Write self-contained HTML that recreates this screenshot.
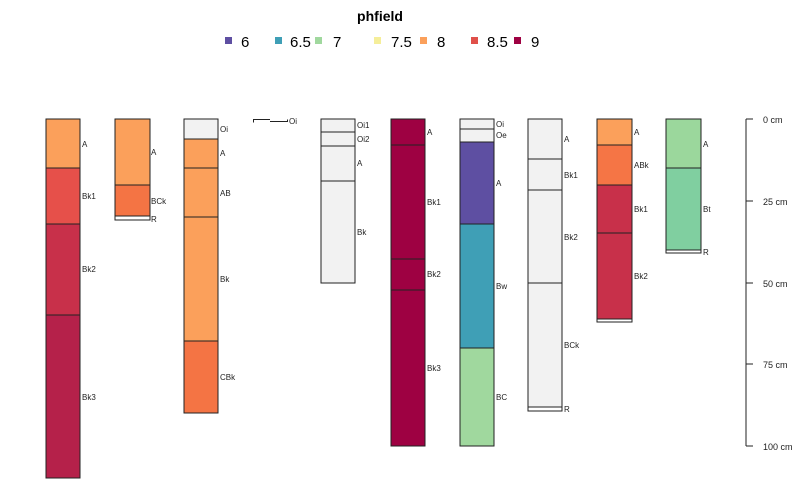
<!DOCTYPE html>
<html><head><style>body{margin:0;background:#fff}svg{display:block}</style></head><body>
<svg width="800" height="495" xmlns="http://www.w3.org/2000/svg" font-family="Liberation Sans, sans-serif">
<rect width="800" height="495" fill="#fff"/>
<text x="380" y="21" font-size="14" font-weight="bold" text-anchor="middle">phfield</text>
<g font-size="15">
<rect x="225" y="37" width="7" height="7" fill="#5E4FA2"/><text x="241" y="47">6</text>
<rect x="275" y="37" width="7" height="7" fill="#3F9FB6"/><text x="290" y="47">6.5</text>
<rect x="315" y="37" width="7" height="7" fill="#A0D89E"/><text x="333" y="47">7</text>
<rect x="374" y="37" width="7" height="7" fill="#F5EE9A"/><text x="391" y="47">7.5</text>
<rect x="420" y="37" width="7" height="7" fill="#FBA05B"/><text x="437" y="47">8</text>
<rect x="471" y="37" width="7" height="7" fill="#E0504A"/><text x="487" y="47">8.5</text>
<rect x="514" y="37" width="7" height="7" fill="#9E0142"/><text x="531" y="47">9</text>
</g>
<g stroke="#222" stroke-width="1" font-size="8">
<rect x="46" y="119" width="34" height="49" fill="#FBA05B"/><rect x="46" y="168" width="34" height="56" fill="#E6504A"/><rect x="46" y="224" width="34" height="91" fill="#C8304A"/><rect x="46" y="315" width="34" height="163" fill="#B5214A"/>
<rect x="115" y="119" width="35" height="66" fill="#FBA05B"/><rect x="115" y="185" width="35" height="31" fill="#F47444"/><rect x="115" y="216" width="35" height="4" fill="#fff"/>
<rect x="184" y="119" width="34" height="20" fill="#F2F2F2"/><rect x="184" y="139" width="34" height="29" fill="#FBA05B"/><rect x="184" y="168" width="34" height="49" fill="#FBA05B"/><rect x="184" y="217" width="34" height="124" fill="#FBA05B"/><rect x="184" y="341" width="34" height="72" fill="#F47444"/>
<path d="M253.5 122.5 V119.5 H270 M270 121.5 H287.5 V119.5" fill="none"/>
<rect x="321" y="119" width="34" height="13" fill="#F2F2F2"/><rect x="321" y="132" width="34" height="14" fill="#F2F2F2"/><rect x="321" y="146" width="34" height="35" fill="#F2F2F2"/><rect x="321" y="181" width="34" height="102" fill="#F2F2F2"/>
<rect x="391" y="119" width="34" height="26" fill="#9E0142"/><rect x="391" y="145" width="34" height="114" fill="#9E0142"/><rect x="391" y="259" width="34" height="31" fill="#9E0142"/><rect x="391" y="290" width="34" height="156" fill="#9E0142"/>
<rect x="460" y="119" width="34" height="10" fill="#F2F2F2"/><rect x="460" y="129" width="34" height="13" fill="#F2F2F2"/><rect x="460" y="142" width="34" height="82" fill="#5E4FA2"/><rect x="460" y="224" width="34" height="124" fill="#3F9FB6"/><rect x="460" y="348" width="34" height="98" fill="#A0D89E"/>
<rect x="528" y="119" width="34" height="40" fill="#F2F2F2"/><rect x="528" y="159" width="34" height="31" fill="#F2F2F2"/><rect x="528" y="190" width="34" height="93" fill="#F2F2F2"/><rect x="528" y="283" width="34" height="124" fill="#F2F2F2"/><rect x="528" y="407" width="34" height="4" fill="#fff"/>
<rect x="597" y="119" width="35" height="26" fill="#FBA05B"/><rect x="597" y="145" width="35" height="40" fill="#F57545"/><rect x="597" y="185" width="35" height="48" fill="#C8304A"/><rect x="597" y="233" width="35" height="86" fill="#C8304A"/><rect x="597" y="319" width="35" height="3" fill="#fff"/>
<rect x="666" y="119" width="35" height="49" fill="#9BD79C"/><rect x="666" y="168" width="35" height="82" fill="#80CFA0"/><rect x="666" y="250" width="35" height="3" fill="#fff"/>
<line x1="746" y1="119" x2="746" y2="446"/>
<line x1="746" y1="119" x2="753" y2="119"/><line x1="746" y1="201" x2="753" y2="201"/><line x1="746" y1="283" x2="753" y2="283"/><line x1="746" y1="364" x2="753" y2="364"/><line x1="746" y1="446" x2="753" y2="446"/>
</g>
<g font-size="8" fill="#222">
<text x="82" y="147">A</text><text x="82" y="199">Bk1</text><text x="82" y="272">Bk2</text><text x="82" y="400">Bk3</text>
<text x="151" y="155">A</text><text x="151" y="204">BCk</text><text x="151" y="222">R</text>
<text x="220" y="132">Oi</text><text x="220" y="156">A</text><text x="220" y="196">AB</text><text x="220" y="282">Bk</text><text x="220" y="380">CBk</text>
<text x="289" y="124">Oi</text>
<text x="357" y="128">Oi1</text><text x="357" y="142">Oi2</text><text x="357" y="166">A</text><text x="357" y="235">Bk</text>
<text x="427" y="135">A</text><text x="427" y="205">Bk1</text><text x="427" y="277">Bk2</text><text x="427" y="371">Bk3</text>
<text x="496" y="127">Oi</text><text x="496" y="138">Oe</text><text x="496" y="186">A</text><text x="496" y="289">Bw</text><text x="496" y="400">BC</text>
<text x="564" y="142">A</text><text x="564" y="178">Bk1</text><text x="564" y="240">Bk2</text><text x="564" y="348">BCk</text><text x="564" y="412">R</text>
<text x="634" y="135">A</text><text x="634" y="168">ABk</text><text x="634" y="212">Bk1</text><text x="634" y="279">Bk2</text>
<text x="703" y="147">A</text><text x="703" y="212">Bt</text><text x="703" y="255">R</text>
</g>
<g font-size="9" fill="#222">
<text x="763" y="123">0 cm</text><text x="763" y="205">25 cm</text><text x="763" y="287">50 cm</text><text x="763" y="368">75 cm</text><text x="763" y="450">100 cm</text>
</g>
</svg>
</body></html>
